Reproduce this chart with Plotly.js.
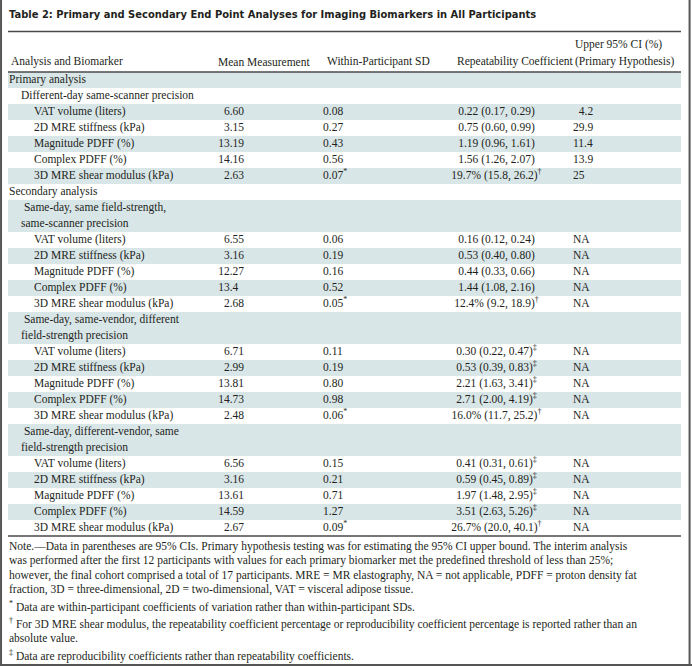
<!DOCTYPE html>
<html><head><meta charset="utf-8">
<script src="https://cdn.plot.ly/plotly-3.0.1.min.js"></script>
<style>html,body{margin:0;padding:0;background:#fff;}</style>
</head><body><div id="chart" style="width:692px;height:666px;"></div>
<script>
// ---------- DATA ----------
const titleText = "Table 2: Primary and Secondary End Point Analyses for Imaging Biomarkers in All Participants";
const headerTop = ["", "", "", "", "Upper 95% CI (%)"];
const headerBottom = ["Analysis and Biomarker", "Mean Measurement", "Within-Participant SD", "Repeatability Coefficient", "(Primary Hypothesis)"];

const labels = [
  "Primary analysis",
  "Different-day same-scanner precision",
  "VAT volume (liters)", "2D MRE stiffness (kPa)", "Magnitude PDFF (%)", "Complex PDFF (%)", "3D MRE shear modulus (kPa)",
  "Secondary analysis",
  "\u00a0Same-day, same field-strength,<br>same-scanner precision",
  "VAT volume (liters)", "2D MRE stiffness (kPa)", "Magnitude PDFF (%)", "Complex PDFF (%)", "3D MRE shear modulus (kPa)",
  "\u00a0Same-day, same-vendor, different<br>field-strength precision",
  "VAT volume (liters)", "2D MRE stiffness (kPa)", "Magnitude PDFF (%)", "Complex PDFF (%)", "3D MRE shear modulus (kPa)",
  "\u00a0Same-day, different-vendor, same<br>field-strength precision",
  "VAT volume (liters)", "2D MRE stiffness (kPa)", "Magnitude PDFF (%)", "Complex PDFF (%)", "3D MRE shear modulus (kPa)"
];
const levels = [0,1,2,2,2,2,2,0,1,2,2,2,2,2,1,2,2,2,2,2,1,2,2,2,2,2];

const meanMeasurement = ["", "", "6.60", "3.15", "13.19", "14.16", "2.63", "", "", "6.55", "3.16", "12.27", "13.4\u00a0\u00a0", "2.68", "", "6.71", "2.99", "13.81", "14.73", "2.48", "", "6.56", "3.16", "13.61", "14.59", "2.67"];
const withinSD = ["", "", "0.08", "0.27", "0.43", "0.56", "0.07<sup>*</sup>", "", "", "0.06", "0.19", "0.16", "0.52", "0.05<sup>*</sup>", "", "0.11", "0.19", "0.80", "0.98", "0.06<sup>*</sup>", "", "0.15", "0.21", "0.71", "1.27", "0.09<sup>*</sup>"];
const repeatability = ["", "",
  "0.22 (0.17, 0.29)", "0.75 (0.60, 0.99)", "1.19 (0.96, 1.61)", "1.56 (1.26, 2.07)", "19.7% (15.8, 26.2)<sup>†</sup>",
  "", "",
  "0.16 (0.12, 0.24)", "0.53 (0.40, 0.80)", "0.44 (0.33, 0.66)", "1.44 (1.08, 2.16)", "12.4% (9.2, 18.9)<sup>†</sup>",
  "",
  "0.30 (0.22, 0.47)<sup>‡</sup>", "0.53 (0.39, 0.83)<sup>‡</sup>", "2.21 (1.63, 3.41)<sup>‡</sup>", "2.71 (2.00, 4.19)<sup>‡</sup>", "16.0% (11.7, 25.2)<sup>†</sup>",
  "",
  "0.41 (0.31, 0.61)<sup>‡</sup>", "0.59 (0.45, 0.89)<sup>‡</sup>", "1.97 (1.48, 2.95)<sup>‡</sup>", "3.51 (2.63, 5.26)<sup>‡</sup>", "26.7% (20.0, 40.1)<sup>†</sup>"
];
const upperCI = ["", "", "\u00a0\u00a04.2", "29.9", "11.4", "13.9", "25", "", "", "NA", "NA", "NA", "NA", "NA", "", "NA", "NA", "NA", "NA", "NA", "", "NA", "NA", "NA", "NA", "NA"];

const noteLines = [
  "Note.\u2014Data in parentheses are 95% CIs. Primary hypothesis testing was for estimating the 95% CI upper bound. The interim analysis",
  "was performed after the first 12 participants with values for each primary biomarker met the predefined threshold of less than 25%;",
  "however, the final cohort comprised a total of 17 participants. MRE = MR elastography, NA = not applicable, PDFF = proton density fat",
  "fraction, 3D = three-dimensional, 2D = two-dimensional, VAT = visceral adipose tissue."
];
const footnotes = [
  ["<sup>*</sup> Data are within-participant coefficients of variation rather than within-participant SDs."],
  ["<sup>†</sup> For 3D MRE shear modulus, the repeatability coefficient percentage or reproducibility coefficient percentage is reported rather than an",
   "absolute value."],
  ["<sup>‡</sup> Data are reproducibility coefficients rather than repeatability coefficients."]
];

// ---------- STYLE / LAYOUT CONSTANTS ----------
const W = 692, H = 666;
const SERIF = "Liberation Serif, Times New Roman, serif";
const FS = 11.5;
const TXT = "#231f20";
const SHADE = "#d9e6e8";
const RULE = "#4a4a4a";
const tableLeft = 8, tableRight = 681;
const rowTop = 72, lineH = 16;
const titleY = 14.5, titleRuleY = 31.5;
const headTopY = 44, headBotY = 61.5;
const headX = [9, 216, 325, 455, 573];
const levelX = [9, 21, 34];
const colMeanX = 244, colSDX = 323, colRepX = 496.5, colUpX = 573;
const noteStart = 546, notePitch = 14.5, paraPitch = 17;

// ---------- ROW GEOMETRY (from data) ----------
const rowLines = labels.map(l => l.split("<br>"));
const rowCenter = [], rowHeight = [];
let cum = 0;
rowLines.forEach(ls => {
  rowCenter.push(rowTop + (cum + ls.length / 2) * lineH);
  rowHeight.push(ls.length * lineH);
  cum += ls.length;
});
const tableBottom = rowTop + cum * lineH;

// shading bars (alternate rows)
const shadeIdx = labels.map((_, i) => i).filter(i => i % 2 === 0);
const shadeTrace = {
  type: "bar", orientation: "h",
  y: shadeIdx.map(i => rowCenter[i]),
  x: shadeIdx.map(() => tableRight - tableLeft),
  base: shadeIdx.map(() => tableLeft),
  width: shadeIdx.map(i => rowHeight[i]),
  marker: {color: SHADE, line: {width: 0}},
  hoverinfo: "skip", showlegend: false
};

// label text (one point per line)
const labX = [], labY = [], labT = [];
rowLines.forEach((ls, i) => {
  const top = rowCenter[i] - rowHeight[i] / 2;
  ls.forEach((t, k) => {
    labX.push(levelX[levels[i]]);
    labY.push(top + (k + 0.5) * lineH);
    labT.push(t);
  });
});
const font = {family: SERIF, size: FS, color: TXT};
function textTrace(xs, ys, ts, pos) {
  return {type: "scatter", mode: "text", x: xs, y: ys, text: ts, textposition: pos,
          textfont: font, hoverinfo: "skip", showlegend: false, cliponaxis: false};
}
function colTrace(vals, x, pos) {
  const idx = vals.map((v, i) => i).filter(i => vals[i] !== "");
  return textTrace(idx.map(() => x), idx.map(i => rowCenter[i]), idx.map(i => vals[i]), pos);
}
const traces = [
  shadeTrace,
  textTrace(labX, labY, labT, "middle right"),
  colTrace(meanMeasurement, colMeanX, "middle left"),
  colTrace(withinSD, colSDX, "middle right"),
  colTrace(repeatability, colRepX, "middle center"),
  colTrace(upperCI, colUpX, "middle right")
];

// annotations: title, header, notes
const ann = [];
ann.push({xref: "x", yref: "y", x: 7, y: titleY, xanchor: "left", yanchor: "middle", showarrow: false,
  text: "<b>" + titleText + "</b>", font: {family: "DejaVu Sans, sans-serif", size: 9.95, color: TXT}});
headerTop.forEach((t, i) => { if (t) ann.push({xref: "x", yref: "y", x: headX[i], y: headTopY, xanchor: "left", yanchor: "middle", showarrow: false, text: t, font: font}); });
headerBottom.forEach((t, i) => ann.push({xref: "x", yref: "y", x: headX[i], y: headBotY, xanchor: "left", yanchor: "middle", showarrow: false, text: t, font: font}));
let ny = noteStart;
noteLines.forEach((t, k) => {
  if (k > 0) ny += notePitch;
  ann.push({xref: "x", yref: "y", x: 7, y: ny, xanchor: "left", yanchor: "middle", showarrow: false, text: t, font: font});
});
footnotes.forEach(par => {
  par.forEach((t, k) => {
    ny += (k === 0 ? paraPitch : notePitch);
    ann.push({xref: "x", yref: "y", x: 7, y: ny, xanchor: "left", yanchor: "middle", showarrow: false, text: t, font: font});
  });
});

const ruleLine = (y) => ({type: "line", xref: "x", yref: "y", x0: tableLeft, x1: tableRight, y0: y, y1: y, line: {color: RULE, width: 1.3}});
const shapes = [
  ruleLine(titleRuleY), ruleLine(rowTop), ruleLine(tableBottom),
  {type: "line", xref: "paper", yref: "paper", x0: 0.0015, x1: 0.0015, y0: 0, y1: 1, line: {color: "#555", width: 2}},
  {type: "line", xref: "paper", yref: "paper", x0: 0.9965, x1: 0.9965, y0: 0, y1: 1, line: {color: "#555", width: 2}},
  {type: "line", xref: "paper", yref: "paper", x0: 0, x1: 1, y0: 0.0015, y1: 0.0015, line: {color: "#555", width: 2}}
];

const layout = {
  width: W, height: H, margin: {l: 0, r: 0, t: 0, b: 0},
  paper_bgcolor: "#fff", plot_bgcolor: "#fff",
  xaxis: {range: [0, W], visible: false, fixedrange: true},
  yaxis: {range: [H, 0], visible: false, fixedrange: true},
  showlegend: false, annotations: ann, shapes: shapes, barmode: "overlay"
};
Plotly.newPlot("chart", traces, layout, {displayModeBar: false, staticPlot: true});
</script></body></html>
